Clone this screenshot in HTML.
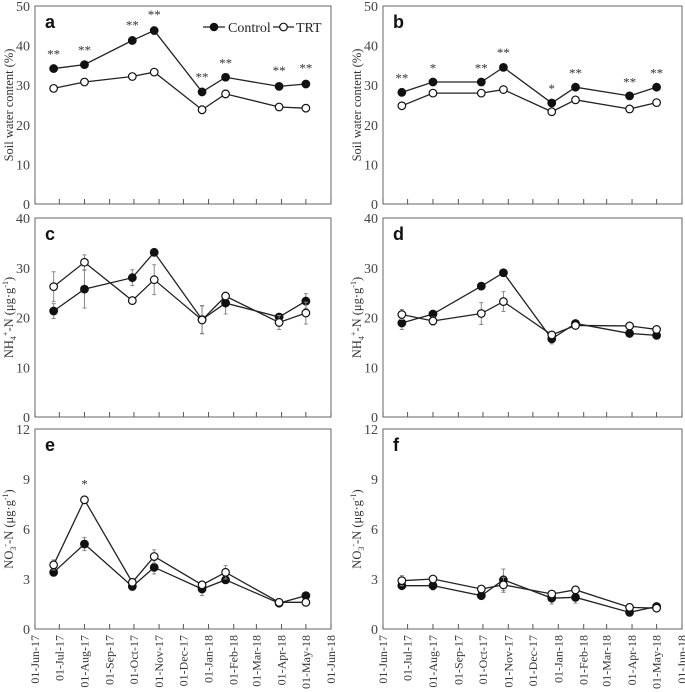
<!DOCTYPE html>
<html><head><meta charset="utf-8"><style>
html,body{margin:0;padding:0;background:#fff;}
svg{display:block;font-family:"Liberation Serif",serif;}
</style></head><body>
<svg id="fig" width="685" height="692" viewBox="0 0 685 692" xmlns="http://www.w3.org/2000/svg"></svg>
<script>
const dayOffsets = [23, 61, 120, 147, 206, 235, 301, 334];
const monthLabels = ["01-Jun-17","01-Jul-17","01-Aug-17","01-Sep-17","01-Oct-17","01-Nov-17","01-Dec-17","01-Jan-18","01-Feb-18","01-Mar-18","01-Apr-18","01-May-18","01-Jun-18"];
const monthDays = [0,30,61,92,122,153,183,214,245,273,304,334,365];

const aControl = [34.2, 35.2, 41.3, 43.8, 28.3, 32.0, 29.7, 30.3];
const aControlErr = [0.5, 0.5, 0.8, 0.9, 0.6, 0.5, 0.8, 0.9];
const aTRT = [29.2, 30.8, 32.2, 33.3, 23.8, 27.8, 24.5, 24.2];
const aTRTErr = [0.4, 0.4, 0.5, 0.4, 1.0, 1.0, 0.9, 0.9];
const aSig = ["**","**","**","**","**","**","**","**"];

const bControl = [28.2, 30.8, 30.8, 34.5, 25.5, 29.5, 27.3, 29.5];
const bControlErr = [0.4, 0.4, 0.4, 0.6, 0.5, 0.4, 0.4, 0.4];
const bTRT = [24.8, 28.0, 28.0, 28.9, 23.3, 26.3, 24.0, 25.6];
const bTRTErr = [0.3, 0.4, 0.4, 0.3, 0.3, 0.6, 0.3, 0.4];
const bSig = ["**","*","**","**","*","**","**","**"];

const cControl = [21.3, 25.7, 28.0, 33.1, 19.6, 22.9, 20.1, 23.3];
const cControlErr = [1.5, 3.8, 1.6, 0.5, 2.8, 2.2, 0.5, 1.5];
const cTRT = [26.2, 31.1, 23.4, 27.6, 19.5, 24.3, 19.0, 20.9];
const cTRTErr = [3.0, 1.5, 0.5, 3.0, 2.8, 0.6, 1.4, 2.2];

const dControl = [18.9, 20.7, 26.3, 29.0, 15.7, 18.8, 16.8, 16.4];
const dControlErr = [1.3, 0.5, 0.5, 0.5, 1.0, 0.5, 0.5, 0.5];
const dTRT = [20.6, 19.3, 20.8, 23.2, 16.5, 18.4, 18.3, 17.6];
const dTRTErr = [1.0, 0.8, 2.2, 2.0, 0.5, 0.5, 0.4, 0.4];

const eControl = [3.4, 5.1, 2.55, 3.7, 2.4, 2.95, 1.55, 2.0];
const eControlErr = [0.2, 0.4, 0.2, 0.4, 0.4, 0.2, 0.2, 0.2];
const eTRT = [3.85, 7.75, 2.8, 4.35, 2.65, 3.4, 1.6, 1.6];
const eTRTErr = [0.3, 0.2, 0.2, 0.4, 0.1, 0.4, 0.2, 0.1];
const eSig = ["","*","","","","","",""];

const fControl = [2.6, 2.6, 2.0, 2.95, 1.85, 1.9, 1.0, 1.35];
const fControlErr = [0.15, 0.25, 0.1, 0.65, 0.35, 0.35, 0.1, 0.1];
const fTRT = [2.9, 3.0, 2.4, 2.65, 2.1, 2.35, 1.3, 1.25];
const fTRTErr = [0.3, 0.1, 0.2, 0.45, 0.1, 0.2, 0.1, 0.1];

const ticks50 = [0,10,20,30,40,50];
const ticks40 = [0,10,20,30,40];
const ticks12 = [0,3,6,9,12];

const NS = "http://www.w3.org/2000/svg";
const svg = document.getElementById('fig');
function mk(tag, attrs, parent){
  const e = document.createElementNS(NS, tag);
  for (const k in attrs) e.setAttribute(k, attrs[k]);
  (parent||svg).appendChild(e);
  return e;
}

const panels = [
  {id:'a', x0:35, x1:331, y0:6, y1:204, max:50, ticks:ticks50, c:aControl, ce:aControlErr, t:aTRT, te:aTRTErr, sig:aSig, ylab:'Soil water content (%)', legend:true},
  {id:'b', x0:383, x1:682, y0:6, y1:204, max:50, ticks:ticks50, c:bControl, ce:bControlErr, t:bTRT, te:bTRTErr, sig:bSig, ylab:'Soil water content (%)'},
  {id:'c', x0:35, x1:331, y0:218, y1:417, max:40, ticks:ticks40, c:cControl, ce:cControlErr, t:cTRT, te:cTRTErr, ylab:'nh4'},
  {id:'d', x0:383, x1:682, y0:218, y1:417, max:40, ticks:ticks40, c:dControl, ce:dControlErr, t:dTRT, te:dTRTErr, ylab:'nh4'},
  {id:'e', x0:35, x1:331, y0:429, y1:629, max:12, ticks:ticks12, c:eControl, ce:eControlErr, t:eTRT, te:eTRTErr, sig:eSig, ylab:'no3', xlabels:true},
  {id:'f', x0:383, x1:682, y0:429, y1:629, max:12, ticks:ticks12, c:fControl, ce:fControlErr, t:fTRT, te:fTRTErr, ylab:'no3', xlabels:true},
];

panels.forEach(p => {
  const g = mk('g', {});
  
  
  const xs = d => p.x0 + d / 365 * (p.x1 - p.x0);
  const ys = v => p.y1 - v / p.max * (p.y1 - p.y0);
  const frame = mk('rect', {x:p.x0, y:p.y0, width:p.x1-p.x0, height:p.y1-p.y0, fill:'none', stroke:'#666', 'stroke-width':1}, g);
  
  
  monthDays.forEach((d, i) => {
    const x = xs(d);
    mk('line', {x1:x, x2:x, y1:p.y1, y2:p.y1-5, stroke:'#555', 'stroke-width':1}, g);
    if (p.xlabels) {
      const t = mk('text', {x:0, y:0, 'font-size':12, fill:'#333', 'text-anchor':'end', transform:`translate(${x+4},${p.y1+6}) rotate(-90)`}, g);
      t.textContent = monthLabels[i];
      
      
    }
  });
  p.ticks.forEach(v => {
    const t = mk('text', {x:p.x0-5, y:ys(v)+5, 'font-size':14, fill:'#444', 'text-anchor':'end'}, g);
    t.textContent = v;
    
    
  });
  const cy = (p.y0 + p.y1) / 2, lx = p.x0 - 22;
  const yl = mk('text', {x:0, y:0, 'font-size':12.5, fill:'#333', 'text-anchor':'middle', transform:`translate(${lx},${cy}) rotate(-90)`}, g);
  
  
  if (p.ylab === 'nh4') {
    yl.innerHTML = 'NH<tspan font-size="8" dy="3">4</tspan><tspan font-size="8" dy="-8">+</tspan><tspan dy="5">-N (μg·g</tspan><tspan font-size="8" dy="-5">-1</tspan><tspan dy="5">)</tspan>';
  } else if (p.ylab === 'no3') {
    yl.innerHTML = 'NO<tspan font-size="8" dy="3">3</tspan><tspan font-size="8" dy="-8">-</tspan><tspan dy="5">-N (μg·g</tspan><tspan font-size="8" dy="-5">-1</tspan><tspan dy="5">)</tspan>';
  } else yl.textContent = p.ylab;
  const pl = mk('text', {x:p.x0+10, y:p.y0+22, 'font-size':18, 'font-weight':'bold', 'font-family':'Liberation Sans, sans-serif', fill:'#111'}, g);
  pl.textContent = p.id;
  
  
  [[p.c, p.ce, '#111', 'control'], [p.t, p.te, '#fff', 'trt']].forEach(([vals, errs, fill, nm]) => {
    vals.forEach((v, i) => {
      const x = xs(dayOffsets[i]);
      const e = mk('path', {d:`M${x},${ys(v-errs[i])}V${ys(v+errs[i])}M${x-2},${ys(v-errs[i])}h4M${x-2},${ys(v+errs[i])}h4`, stroke:'#888', 'stroke-width':1, fill:'none'}, g);
      
      
    });
    const pts = vals.map((v, i) => xs(dayOffsets[i]) + ',' + ys(v)).join(' ');
    const line = mk('polyline', {points:pts, fill:'none', stroke:'#222', 'stroke-width':1.3}, g);
    
    
    vals.forEach((v, i) => {
      const c = mk('circle', {cx:xs(dayOffsets[i]), cy:ys(v), r:3.8, fill:fill, stroke:'#111', 'stroke-width':1.2}, g);
      
      
    });
  });
  if (p.sig) {
    p.sig.forEach((s, i) => {
      if (!s) return;
      const top = Math.max(p.c[i] + p.ce[i], p.t[i] + p.te[i]);
      const t = mk('text', {x:xs(dayOffsets[i]), y:ys(top)-8, 'font-size':13, fill:'#333', 'text-anchor':'middle'}, g);
      t.textContent = s;
      
      
    });
  }
  if (p.legend) {
    const lg = mk('g', {}, g);
    
    
    mk('line', {x1:203, x2:225, y1:27, y2:27, stroke:'#222', 'stroke-width':1.3}, lg);
    mk('circle', {cx:214, cy:27, r:3.8, fill:'#111', stroke:'#111'}, lg);
    const t1 = mk('text', {x:228, y:32, 'font-size':14, fill:'#222'}, lg);
    t1.textContent = 'Control';
    mk('line', {x1:273, x2:294, y1:27, y2:27, stroke:'#222', 'stroke-width':1.3}, lg);
    mk('circle', {cx:283.5, cy:27, r:3.8, fill:'#fff', stroke:'#111', 'stroke-width':1.2}, lg);
    const t2 = mk('text', {x:296, y:32, 'font-size':14, fill:'#222'}, lg);
    t2.textContent = 'TRT';
  }
});
</script>
</body></html>
